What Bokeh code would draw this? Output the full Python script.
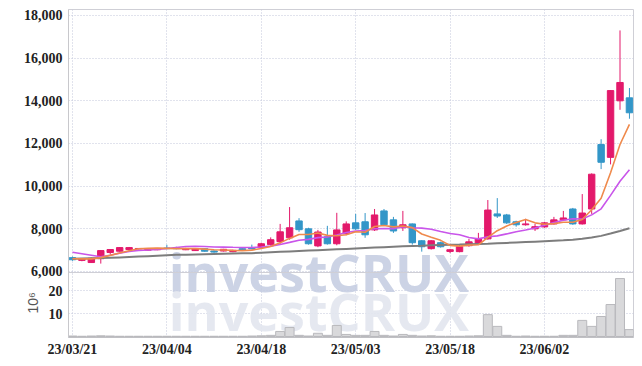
import math
from bokeh.plotting import figure
from bokeh.models import FixedTicker, NumeralTickFormatter, Range1d, ColumnDataSource, Span, Title
from bokeh.core.properties import value
from bokeh.embed import file_html
from bokeh.resources import INLINE

dates = ["23/03/21", "23/03/22", "23/03/23", "23/03/24", "23/03/27", "23/03/28", "23/03/29", "23/03/30",
         "23/03/31", "23/04/03", "23/04/04", "23/04/05", "23/04/06", "23/04/07", "23/04/10", "23/04/11",
         "23/04/12", "23/04/13", "23/04/14", "23/04/17", "23/04/18", "23/04/19", "23/04/20", "23/04/21",
         "23/04/24", "23/04/25", "23/04/26", "23/04/27", "23/04/28", "23/05/02", "23/05/03", "23/05/04",
         "23/05/08", "23/05/09", "23/05/10", "23/05/11", "23/05/12", "23/05/15", "23/05/16", "23/05/17",
         "23/05/18", "23/05/19", "23/05/22", "23/05/23", "23/05/24", "23/05/25", "23/05/26", "23/05/30",
         "23/05/31", "23/06/01", "23/06/02", "23/06/05", "23/06/07", "23/06/08", "23/06/09", "23/06/12",
         "23/06/13", "23/06/14", "23/06/15", "23/06/16"]

opens = [6650, 6520, 6420, 6600, 6890, 6950, 7030, 7060, 7000, 7020,
         7100, 7120, 7020, 6980, 7070, 6960, 6960, 6930, 7070, 7120,
         7120, 7260, 7400, 7580, 8370, 8000, 7200, 7630, 7300, 7770,
         8280, 8330, 7950, 8840, 8420, 8050, 8230, 7440, 7070, 7350,
         6940, 6930, 7210, 7300, 7530, 8700, 8650, 8330, 8190, 8000,
         8090, 8230, 8420, 8930, 8230, 8930, 11950, 11350, 14000, 14140]
highs = [6700, 6620, 6650, 7000, 7050, 7140, 7150, 7100, 7090, 7100,
         7250, 7160, 7110, 7100, 7090, 6990, 7060, 7020, 7090, 7260,
         7350, 7600, 8230, 9020, 8500, 8050, 7950, 8140, 8750, 8350,
         8700, 8740, 8930, 8930, 8560, 8840, 8250, 7470, 7470, 7400,
         7060, 7250, 7530, 7810, 9350, 9440, 8700, 8380, 8470, 8230,
         8330, 8560, 8840, 8980, 9630, 10600, 12200, 14500, 17300, 14600]
lows = [6500, 6480, 6400, 6370, 6790, 6930, 7000, 7040, 6980, 7000,
        7050, 7040, 7000, 6960, 6930, 6880, 6940, 6900, 6980, 7040,
        7100, 7210, 7300, 7490, 7860, 7260, 7140, 7260, 7230, 7700,
        7950, 7580, 7900, 8140, 7810, 7900, 7260, 6930, 7030, 7120,
        6860, 6900, 7160, 7260, 7490, 8510, 8230, 8100, 8150, 7900,
        8050, 8200, 8400, 8190, 8200, 8700, 10800, 11020, 13580, 13160]
closes = [6550, 6600, 6620, 6980, 7030, 7120, 7120, 7080, 7070, 7080,
          7070, 7070, 7080, 7070, 6950, 6910, 7040, 6990, 7000, 7060,
          7300, 7490, 7860, 8050, 7960, 7300, 7850, 7300, 7950, 8230,
          8000, 7720, 8650, 8190, 7900, 8190, 7350, 7160, 7440, 7160,
          7020, 7160, 7390, 7530, 8880, 8600, 8280, 8190, 8230, 8100,
          8280, 8420, 8510, 8230, 8740, 10560, 11120, 14480, 14860, 13440]

ma5 = [6600, 6590, 6590, 6650, 6756, 6870, 6974, 7066, 7084, 7094,
       7084, 7074, 7074, 7074, 7048, 7016, 7010, 6992, 6978, 7000,
       7078, 7168, 7342, 7552, 7732, 7732, 7804, 7692, 7672, 7726,
       7866, 7840, 8110, 8158, 8092, 8130, 8056, 7758, 7608, 7460,
       7226, 7188, 7234, 7252, 7596, 7912, 8136, 8296, 8436, 8280,
       8216, 8244, 8308, 8308, 8436, 8892, 9432, 10626, 11952, 12892]
ma10 = [6900, 6830, 6760, 6690, 6760, 6860, 6940, 6990, 7010, 7030,
        7077, 7124, 7170, 7179, 7171, 7150, 7142, 7133, 7126, 7124,
        7147, 7189, 7267, 7365, 7466, 7505, 7586, 7617, 7712, 7829,
        7899, 7922, 8001, 8015, 8009, 8098, 8048, 8034, 7983, 7876,
        7778, 7722, 7596, 7530, 7628, 7669, 7762, 7865, 7944, 8038,
        8164, 8290, 8402, 8472, 8458, 8654, 8938, 9567, 10230, 10764]
ma60 = [6600, 6610, 6620, 6630, 6640, 6660, 6680, 6700, 6720, 6740,
        6760, 6780, 6790, 6800, 6810, 6820, 6830, 6840, 6850, 6860,
        6880, 6900, 6920, 6940, 6960, 6980, 7000, 7020, 7040, 7060,
        7080, 7100, 7120, 7140, 7160, 7180, 7200, 7210, 7230, 7240,
        7250, 7260, 7280, 7290, 7300, 7320, 7340, 7360, 7380, 7400,
        7420, 7440, 7460, 7490, 7530, 7590, 7670, 7780, 7900, 8030]

volume = [0.2, 0.1, 0.2, 0.3, 0.2, 0.1, 0.1, 0.1, 0.1, 0.1,
          0.1, 0.1, 0.1, 0.1, 0.1, 0.1, 0.1, 0.1, 0.1, 0.2,
          0.3, 0.5, 2.2, 3.9, 0.5, 0.2, 1.4, 0.5, 4.8, 0.9,
          0.5, 0.5, 2.2, 0.5, 0.2, 0.9, 0.5, 0.2, 0.3, 0.1,
          0.1, 0.1, 0.2, 0.3, 9.5, 4.4, 0.5, 0.1, 0.2, 0.1,
          0.1, 0.1, 0.5, 0.5, 7.0, 4.4, 8.7, 13.9, 25.2, 3.0]

price_ticks = [6000, 8000, 10000, 12000, 14000, 16000, 18000]
volume_ticks = [10, 20]
date_tick_idx = [0, 10, 20, 30, 40, 50]

UP = "#e3196b"
DOWN = "#3396c8"
GRID = "#c3c7da"
FONT = "Liberation Sans Narrow"

# ranges: price occupies upper part, volume the lower strip of the same frame
P0, P1 = 2906, 18281
V0, V1 = -0.435, 142.17
PANEL_SPLIT = 5953

idx = list(range(len(dates)))
colors = [UP if c >= o else DOWN for o, c in zip(opens, closes)]
src = ColumnDataSource(dict(
    x=idx, o=opens, h=highs, l=lows, c=closes,
    top=[max(o, c) for o, c in zip(opens, closes)],
    bottom=[min(o, c) for o, c in zip(opens, closes)],
    color=colors, ma5=ma5, ma10=ma10, ma60=ma60, vol=volume))

p = figure(width=634, height=366, x_range=Range1d(-0.42, 59.43), y_range=Range1d(P0, P1),
           output_backend="svg", toolbar_location=None,
           min_border_left=68, min_border_right=1, min_border_top=9, min_border_bottom=29)
p.extra_y_ranges = {"vol": Range1d(V0, V1)}

def vol_to_price(v):
    return int(round(P0 + (v - V0) / (V1 - V0) * (P1 - P0)))

vol_tick_pos = [vol_to_price(v) for v in volume_ticks]

p.outline_line_color = "#cfcfd6"
p.background_fill_color = "white"
p.border_fill_color = "white"

p.xaxis.ticker = FixedTicker(ticks=date_tick_idx)
p.xgrid.ticker = FixedTicker(ticks=date_tick_idx)
p.yaxis.ticker = FixedTicker(ticks=vol_tick_pos + price_ticks)
p.ygrid.ticker = FixedTicker(ticks=vol_tick_pos + price_ticks)
p.yaxis.formatter = NumeralTickFormatter(format="0,0")
p.yaxis.major_label_overrides = {pos: str(v) for pos, v in zip(vol_tick_pos, volume_ticks)}

for g in (p.xgrid, p.ygrid):
    g.grid_line_color = GRID
    g.grid_line_dash = "1 2"
    g.grid_line_width = 1

for ax in (p.xaxis, p.yaxis):
    ax.major_tick_line_color = None
    ax.minor_tick_line_color = None
    ax.major_tick_out = 0
    ax.major_tick_in = 0
    ax.minor_tick_out = 0
    ax.minor_tick_in = 0
    ax.major_label_text_font = FONT
    ax.major_label_text_font_size = "14px"
    ax.major_label_text_font_style = "bold"
    ax.major_label_text_color = "#222222"

p.yaxis.axis_line_color = "#c8c8cc"
p.yaxis.major_label_standoff = 6
p.xaxis.axis_line_color = "#c0c0c4"
p.xaxis.major_label_standoff = 4
p.xaxis.major_label_overrides = {i: dates[i] for i in date_tick_idx}

# watermark and its pale reflection
p.text(x=[26.1], y=[5985], text=["investCRUX"], text_font=value("Open Sans"),
       text_font_style="bold", text_font_size="52px", text_color="#c3cbe0",
       text_alpha=0.85, text_align="center", text_baseline="alphabetic")
p.text(x=[26.1], y=[4172], text=["investCRUX"], text_font=value("Open Sans"),
       text_font_style="bold", text_font_size="52px", text_color="#e2e5ee",
       text_alpha=0.9, text_align="center", text_baseline="alphabetic")

# panel separator
p.add_layout(Span(location=PANEL_SPLIT, dimension="width", line_color="#cfcfd6", line_width=1))

# volume
p.vbar(x="x", top="vol", bottom=0, width=0.95, fill_color="#d9d9db",
       line_color="#b9b9bd", line_width=1, source=src, y_range_name="vol")

# candles
p.segment(x0="x", y0="l", x1="x", y1="h", color="color", line_width=1, source=src)
p.vbar(x="x", top="top", bottom="bottom", width=0.68, fill_color="color",
       line_color="color", line_width=1, source=src)
p.line(x="x", y="ma60", color="#7d7d7d", line_width=2, source=src)
p.line(x="x", y="ma10", color="#c955ea", line_width=1.6, source=src)
p.line(x="x", y="ma5", color="#ef8a4c", line_width=1.6, source=src)

# unit label of the volume strip
p.add_layout(Title(text="10⁶", align="left", offset=24, standoff=-41,
                   text_font="Liberation Sans", text_font_size="14px", text_font_style="normal",
                   text_color="#555555"), "left")

open("out.html", "w").write(file_html(p, INLINE))
